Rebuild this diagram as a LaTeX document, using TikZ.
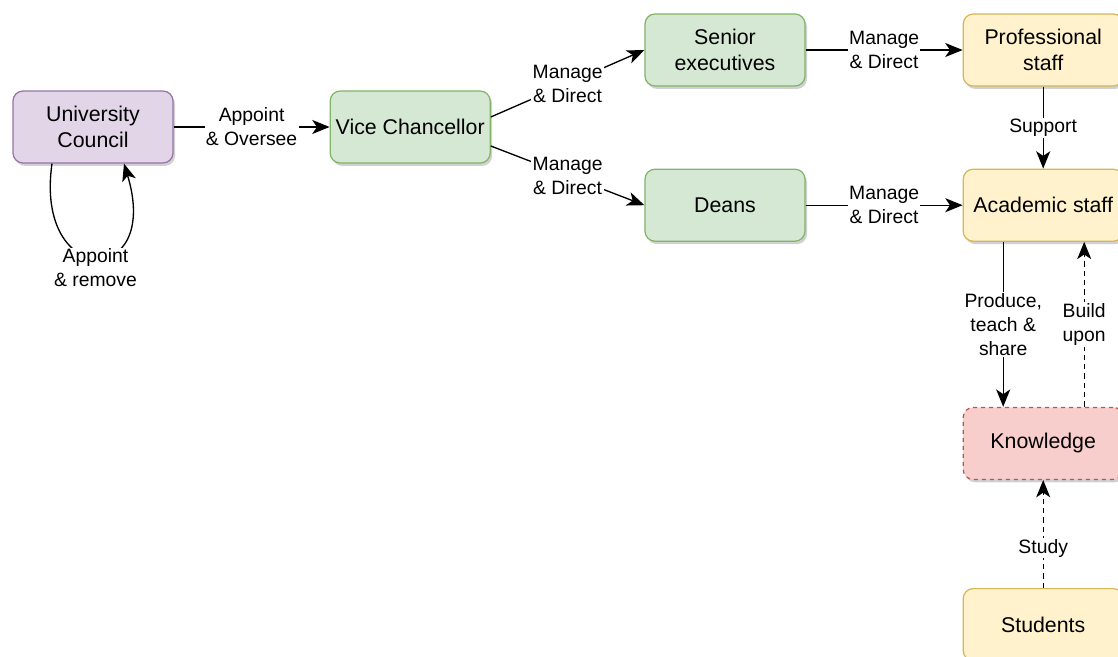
\documentclass[tikz,border=0pt]{standalone}
\usepackage{fontspec}
\setmainfont{Liberation Sans}
\usepackage{tikz}
\usetikzlibrary{arrows.meta,positioning,shadows}
\definecolor{ucfill}{HTML}{E1D5E7}
\definecolor{ucdraw}{HTML}{9673A6}
\definecolor{grfill}{HTML}{D5E8D4}
\definecolor{grdraw}{HTML}{82B366}
\definecolor{ylfill}{HTML}{FFF2CC}
\definecolor{yldraw}{HTML}{D6B656}
\definecolor{rdfill}{HTML}{F8CECC}
\definecolor{rddraw}{HTML}{B85450}
\tikzset{
  box/.style={rectangle,rounded corners=7.5pt,draw=grdraw,fill=grfill,line width=0.9pt,
              text=black,align=center,inner sep=2pt,minimum width=120pt,minimum height=54pt,
              font=\fontsize{16}{19.5}\selectfont,
              drop shadow={shadow xshift=1.5pt,shadow yshift=-2.2pt,fill=black,opacity=0.18}},
  pbox/.style={box,draw=ucdraw,fill=ucfill},
  ybox/.style={box,draw=yldraw,fill=ylfill},
  kbox/.style={box,draw=rddraw,fill=rdfill,dashed},
  arr/.style={-{Stealth[length=13pt,width=10.5pt,inset=3.5pt]},line width=1pt,draw=black},
  darr/.style={arr,dash pattern=on 4pt off 3pt},
  lbl/.style={fill=white,inner sep=1pt,align=center,text=black,
              font=\fontsize{14.5}{18}\selectfont},
}
\begin{document}
\begin{tikzpicture}[x=0.75pt,y=-0.75pt]
  \useasboundingbox[fill=white] (0,0) rectangle (1118,657);
  % governance
  \node[pbox] (uc) at (93,127) {University\\Council};
  \node[box,right=117pt of uc] (vc) {Vice Chancellor};
  \node[box] (sen) at (725,50) {Senior\\executives};
  \node[box,below=61.5pt of sen] (deans) {Deans};
  % staff, knowledge, students
  \node[ybox,right=117.75pt of sen] (prof) {Professional\\staff};
  \node[ybox,below=61.5pt of prof] (acad) {Academic staff};
  \node[kbox,below=123.75pt of acad] (know) {Knowledge};
  \node[ybox,below=81pt of know] (stud) {Students};
  \draw[arr] (uc) -- node[lbl]{Appoint\\\& Oversee} (vc);
  \draw[arr] ([xshift=-30.75pt]uc.south) .. controls +(-18,125) and +(38,125) ..
    node[lbl,yshift=-8pt]{Appoint\\\& remove} ([xshift=23.25pt]uc.south);
  \draw[arr] ([yshift=7.5pt]vc.east) -- node[lbl]{Manage\\\& Direct} (sen.west);
  \draw[arr] ([yshift=-14.25pt]vc.east) -- node[lbl]{Manage\\\& Direct} (deans.west);
  \draw[arr] (sen) -- node[lbl]{Manage\\\& Direct} (prof);
  \draw[arr] (deans) -- node[lbl]{Manage\\\& Direct} (acad);
  \draw[arr] (prof) -- node[lbl]{Support} (acad);
  \draw[arr] ([xshift=-30pt]acad.south) -- node[lbl]{Produce,\\teach \&\\share} ([xshift=-30pt]know.north);
  \draw[darr] ([xshift=30.75pt]know.north) -- node[lbl]{Build\\upon} ([xshift=30.75pt]acad.south);
  \draw[darr] (stud) -- node[lbl,pos=0.37]{Study} (know);
\end{tikzpicture}
\end{document}
